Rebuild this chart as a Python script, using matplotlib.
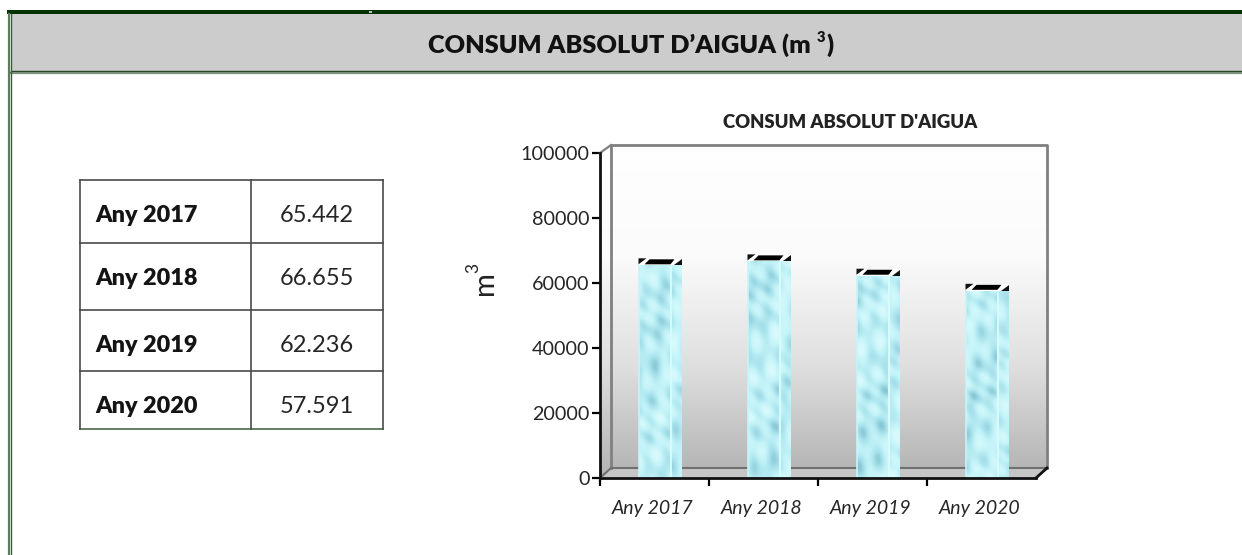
import numpy as np
import matplotlib
matplotlib.use("Agg")
import matplotlib.pyplot as plt
from matplotlib.colors import LinearSegmentedColormap
from matplotlib.patches import Polygon, Rectangle
from matplotlib.transforms import ScaledTranslation

W, H = 1242, 555
plt.rcParams["font.family"] = ["Lato", "DejaVu Sans"]

years = ["Any 2017", "Any 2018", "Any 2019", "Any 2020"]
consum = [65442, 66655, 62236, 57591]
y_ticks = [0, 20000, 40000, 60000, 80000, 100000]

# chart frame in pixels
AX_L, AX_R, AX_T, AX_B = 600, 1036, 153, 478
DEPTH_X, DEPTH_Y = 11, 10


def water(w, h, phase):
    # soft blotches for the bar fill
    yy, xx = np.mgrid[0:h, 0:w]
    a = np.sin(xx / 5.0 + yy / 9.0 + phase) * np.sin(yy / 13.0 - xx / 7.0)
    b = np.sin((xx - yy) / 4.0 + 2 * np.sin(yy / 17.0 + phase))
    c = np.sin(yy / 31.0 + xx / 11.0 + phase * 2)
    return 0.58 + 0.26 * a + 0.14 * b + 0.1 * c


fig = plt.figure(figsize=(W / 100, H / 100), dpi=100, facecolor="white")

# page furniture, pixel coordinates
pg = fig.add_axes([0, 0, 1, 1])
pg.set_xlim(0, W); pg.set_ylim(H, 0); pg.axis("off")
pg.add_patch(Rectangle((11, 14), W - 11, 57, fc="#cccccc", ec="none"))
pg.add_patch(Rectangle((7, 10), W - 7, 4, fc="#033303", ec="none"))
pg.add_patch(Rectangle((369, 11), 3, 2, fc="#b8c4b8", ec="none"))
pg.plot([11, W], [71, 71], color="#1d3d1d", lw=1)
pg.plot([11, W], [73, 73], color="#7d937d", lw=1.6)
pg.plot([8.5, 8.5], [14, H], color="#5d7d5d", lw=1.6)
pg.plot([11, 11], [14, H], color="#3c5c3c", lw=1)
pg.text(428, 53, "CONSUM ABSOLUT D’AIGUA (m", ha="left", va="baseline",
        fontsize=18.2, fontweight=800, color="#111111")
pg.text(817, 42, "3", ha="left", va="baseline", fontsize=10.5, fontweight=800, color="#111111")
pg.text(826, 53, ")", ha="left", va="baseline", fontsize=18.2, fontweight=800, color="#111111")

# table
tab_x = [80, 251, 383]
tab_y = [180, 243, 310, 371, 429]
tab_col = ["#4a4a4a", "#4a4a4a", "#4a4a4a", "#4a4a4a", "#4a6a4a"]
text_y = [222, 285, 352, 413]
for yy, c in zip(tab_y, tab_col):
    pg.plot([tab_x[0], tab_x[-1]], [yy, yy], color=c, lw=1.2, solid_capstyle="projecting")
for xx in tab_x:
    pg.plot([xx, xx], [tab_y[0], tab_y[-1]], color="#4a4a4a", lw=1.2)
for ym, yr, v in zip(text_y, years, consum):
    pg.text(95, ym, yr, ha="left", va="baseline", fontsize=16.8, fontweight=800, color="#141414")
    pg.text(316.5, ym, f"{v:,}".replace(",", "."), ha="center", va="baseline", fontsize=17, color="#262626")

# bar chart
ax = fig.add_axes([AX_L / W, 1 - AX_B / H, (AX_R - AX_L) / W, (AX_B - AX_T) / H])
ax.set_xlim(0, len(years)); ax.set_ylim(0, 100000)
ax.patch.set_visible(False)
px = len(years) / (AX_R - AX_L)
py = 100000 / (AX_B - AX_T)
dx, dy = DEPTH_X * px, DEPTH_Y * py
top = 100000 + (AX_T - 145) * py
n = len(years)

# walls with one shared gradient
grad = LinearSegmentedColormap.from_list("wall", ["#ffffff", "#fbfbfb", "#dfdfdf", "#b2b2b2"])
wall_im = ax.imshow(np.linspace(0, 1, 256)[:, None], extent=(0, n + dx, 0, top), aspect="auto",
                    cmap=grad, origin="upper", zorder=0)
wall_clip = Polygon([(0, 0), (0, 100000), (dx, top), (n + dx, top), (n + dx, dy), (n, 0)],
                    transform=ax.transData)
wall_im.set_clip_path(wall_clip)
wall_im.set_clip_box(fig.bbox)
ax.add_patch(Polygon([(0, 0), (dx, dy), (n + dx, dy), (n, 0)], fc="#c6c6c6", ec="none",
                     zorder=1, clip_on=False))
ax.plot([dx, dx, n + dx, n + dx], [dy, top, top, dy], color="#808080", lw=2, zorder=2, clip_on=False)
ax.plot([0, dx], [100000, top], color="#808080", lw=1.6, zorder=2, clip_on=False)
ax.plot([dx, n + dx], [dy, dy], color="#707070", lw=1.5, zorder=2, clip_on=False)
ax.plot([0, dx], [0, dy], color="#707070", lw=1.5, zorder=2, clip_on=False)
ax.plot([n, n + dx], [0, dy], color="#111111", lw=2, zorder=5, clip_on=False)

# bars: front face, side face, top cap
pos = np.arange(n) + 0.5
front_w = 32 * px
side_w = 11 * px
water_cm = LinearSegmentedColormap.from_list("water", ["#79bccb", "#a6e0ea", "#c2f3f8", "#d8fafc"])
fronts = ax.bar(pos, consum, width=front_w, color="#b8eef4", zorder=3)
sides = ax.bar(pos + front_w / 2 + side_w / 2, consum, width=side_w, color="#a8e2ea", zorder=3)
for i, (f, s, v) in enumerate(zip(fronts, sides, consum)):
    x0 = f.get_x()
    x1 = x0 + front_w
    x2 = x1 + side_w
    im = ax.imshow(water(32, 200, i * 0.9 + 0.5), extent=(x0, x1, 0, v), aspect="auto", cmap=water_cm,
                   vmin=0, vmax=1, zorder=3.1, interpolation="bicubic")
    im.set_clip_path(f)
    im = ax.imshow(water(11, 200, i * 0.9 + 2.5), extent=(x1, x2, 0, v), aspect="auto", cmap=water_cm,
                   vmin=-0.15, vmax=1.0, zorder=3.1, interpolation="bicubic")
    im.set_clip_path(s)
    ax.plot([x1, x1], [0, v], color="#d8fbfd", lw=1.4, zorder=3.2)
    ax.plot([x0, x0], [0, v], color="#c8f4f8", lw=1.2, zorder=3.2)
    # cap on top of the bar
    cap = 7 * py
    ax.add_patch(Polygon([(x0, v), (x2, v), (x2, v + cap), (x0, v + cap)], fc="white", ec="none", zorder=3.3))
    ax.add_patch(Polygon([(x0 + 6 * px, v + py), (x1, v + py), (x1 + 4 * px, v + 6 * py), (x0 + 11 * px, v + 6 * py)],
                         fc="black", ec="none", zorder=3.4))
    ax.add_patch(Polygon([(x0, v + cap), (x0 + 8 * px, v + cap), (x0, v + py)], fc="#111111", ec="none", zorder=3.4))
    ax.add_patch(Polygon([(x2, v + 6 * py), (x2, v), (x2 - 8 * px, v)], fc="#111111", ec="none", zorder=3.4))

ax.set_xlim(0, n); ax.set_ylim(0, 100000)
for sp in ["top", "right"]:
    ax.spines[sp].set_visible(False)
for sp in ["left", "bottom"]:
    ax.spines[sp].set_linewidth(2)
    ax.spines[sp].set_color("#111111")
    ax.spines[sp].set_zorder(4)
ax.set_yticks(y_ticks)
ax.tick_params(axis="y", length=6, width=1.6, pad=1.5, labelsize=14.2, labelcolor="#262626")
ax.set_xticks(range(n))
ax.set_xticklabels([])
ax.tick_params(axis="x", which="major", length=6, width=1.6)
ax.set_xticks(pos, minor=True)
ax.set_xticklabels(years, minor=True, fontsize=14, fontstyle="italic", color="#262626")
ax.tick_params(axis="x", which="minor", length=0, pad=16)
for lab in ax.get_xticklabels(minor=True):
    lab.set_transform(lab.get_transform() + ScaledTranslation(-2 / 100, 0, fig.dpi_scale_trans))
pg.text(850, 128, "CONSUM ABSOLUT D'AIGUA", ha="center", va="baseline", fontsize=13.3,
        fontweight=800, color="#222222")
pg.text(498, 283, "m", rotation=90, ha="right", va="center", fontsize=21, color="#222222")
pg.text(481, 268, "3", rotation=90, ha="right", va="center", fontsize=12.5, color="#222222")

fig.savefig("out.png", dpi=100)
